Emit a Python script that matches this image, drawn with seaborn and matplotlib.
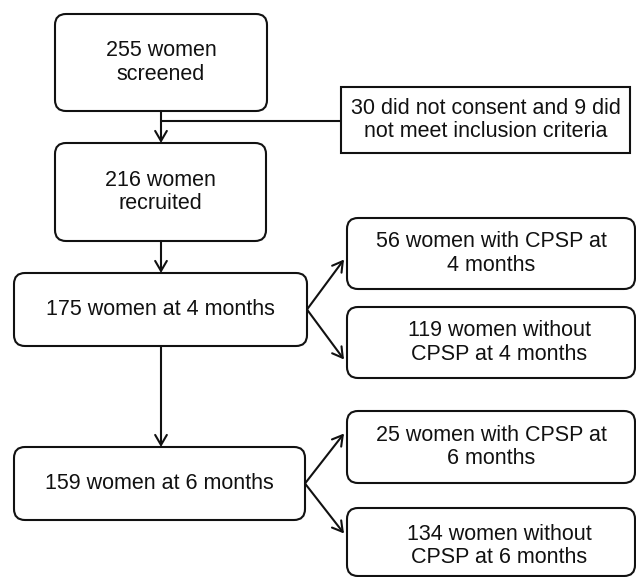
import matplotlib
matplotlib.use("Agg")
import matplotlib.pyplot as plt
from matplotlib.patches import FancyBboxPatch
import seaborn as sns

# box texts (the data of this flow chart)
main_labels = ["255 women\nscreened", "216 women\nrecruited",
               "175 women at 4 months", "159 women at 6 months"]
excl_label = "30 did not consent and 9 did\nnot meet inclusion criteria"
side_labels = ["56 women with CPSP at\n4 months", "119 women without\nCPSP at 4 months",
               "25 women with CPSP at\n6 months", "134 women without\nCPSP at 6 months"]

# layout in pixels: (left, top, right, bottom)
main_boxes = [(55, 14, 267, 111), (55, 143, 266, 241),
              (14, 273, 307, 346), (14, 447, 305, 520)]
excl_box = (341, 87, 630, 153)
side_boxes = [(347, 218, 635, 289), (347, 307, 635, 378),
              (347, 411, 635, 483), (347, 508, 635, 576)]
spine_x = 161

sns.set_theme(style="white")
plt.rcParams["font.family"] = ["Liberation Sans", "DejaVu Sans"]

fig = plt.figure(figsize=(6.36, 5.77), dpi=100)
ax = fig.add_axes([0, 0, 1, 1])
ax.set_xlim(0, 636)
ax.set_ylim(577, 0)
ax.axis("off")

LW = 1.5
EC = "#111111"


def draw_box(b, text, rounded=True, fs=15.5, dx=0, dy=0):
    x0, y0, x1, y1 = b
    style = "round,pad=0,rounding_size=11" if rounded else "square,pad=0"
    ax.add_patch(FancyBboxPatch((x0, y0), x1 - x0, y1 - y0, boxstyle=style,
                                fc="white", ec=EC, lw=LW))
    ax.text((x0 + x1) / 2 + dx, (y0 + y1) / 2 + dy, text, ha="center", va="center",
            fontsize=fs, color="#111111", linespacing=1.15)


def arrow(p0, p1):
    ax.annotate("", xy=p1, xytext=p0,
                arrowprops=dict(arrowstyle="->,head_length=0.6,head_width=0.35",
                                color=EC, lw=LW, shrinkA=0, shrinkB=0,
                                mutation_scale=12))


for b, t in zip(main_boxes, main_labels):
    draw_box(b, t)
draw_box(excl_box, excl_label, rounded=False)
for i, (b, t) in enumerate(zip(side_boxes, side_labels)):
    draw_box(b, t, dx=(8 if i % 2 else 0), dy=(4 if i == 3 else 0))

# vertical flow
arrow((spine_x, main_boxes[0][3]), (spine_x, main_boxes[1][1]))
ax.plot([spine_x, excl_box[0]], [121, 121], color=EC, lw=LW)
arrow((spine_x, main_boxes[1][3]), (spine_x, main_boxes[2][1]))
arrow((spine_x, main_boxes[2][3]), (spine_x, main_boxes[3][1]))

# branches to the right
for i, mb in enumerate(main_boxes[2:]):
    cy = (mb[1] + mb[3]) / 2
    for sb, dy in zip(side_boxes[2 * i:2 * i + 2], (-1, 1)):
        ty = cy + dy * 50
        arrow((mb[2], cy), (sb[0] - 3, ty))

fig.savefig("out.png", dpi=100, facecolor="white")
